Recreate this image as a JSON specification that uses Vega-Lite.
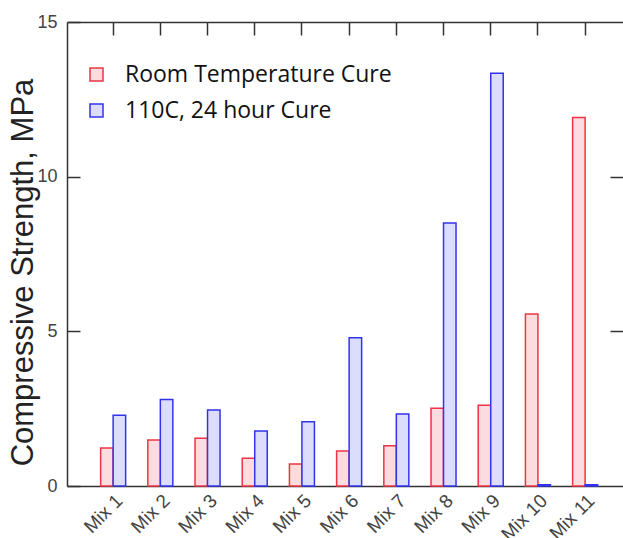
{
  "$schema": "https://vega.github.io/schema/vega-lite/v6.json",
  "width": 556,
  "height": 464,
  "autosize": {"type": "none"},
  "padding": {"left": 67, "top": 22, "right": 0, "bottom": 52},
  "background": "white",
  "config": {
    "view": {"stroke": null},
    "axis": {"domainColor": "#333", "domainWidth": 1.5, "tickColor": "#333", "tickWidth": 1.5, "grid": false, "labelFont": "Liberation Sans", "titleFont": "Liberation Sans"}
  },
  "data": {
    "values": [
      {"mix": "Mix 1", "cure": "Room Temperature Cure", "strength": 1.23},
      {"mix": "Mix 1", "cure": "110C, 24 hour Cure", "strength": 2.29},
      {"mix": "Mix 2", "cure": "Room Temperature Cure", "strength": 1.49},
      {"mix": "Mix 2", "cure": "110C, 24 hour Cure", "strength": 2.8},
      {"mix": "Mix 3", "cure": "Room Temperature Cure", "strength": 1.54},
      {"mix": "Mix 3", "cure": "110C, 24 hour Cure", "strength": 2.46},
      {"mix": "Mix 4", "cure": "Room Temperature Cure", "strength": 0.9},
      {"mix": "Mix 4", "cure": "110C, 24 hour Cure", "strength": 1.78},
      {"mix": "Mix 5", "cure": "Room Temperature Cure", "strength": 0.71},
      {"mix": "Mix 5", "cure": "110C, 24 hour Cure", "strength": 2.08},
      {"mix": "Mix 6", "cure": "Room Temperature Cure", "strength": 1.13},
      {"mix": "Mix 6", "cure": "110C, 24 hour Cure", "strength": 4.79},
      {"mix": "Mix 7", "cure": "Room Temperature Cure", "strength": 1.3},
      {"mix": "Mix 7", "cure": "110C, 24 hour Cure", "strength": 2.33},
      {"mix": "Mix 8", "cure": "Room Temperature Cure", "strength": 2.51},
      {"mix": "Mix 8", "cure": "110C, 24 hour Cure", "strength": 8.5},
      {"mix": "Mix 9", "cure": "Room Temperature Cure", "strength": 2.61},
      {"mix": "Mix 9", "cure": "110C, 24 hour Cure", "strength": 13.34},
      {"mix": "Mix 10", "cure": "Room Temperature Cure", "strength": 5.56},
      {"mix": "Mix 10", "cure": "110C, 24 hour Cure", "strength": 0.04},
      {"mix": "Mix 11", "cure": "Room Temperature Cure", "strength": 11.91},
      {"mix": "Mix 11", "cure": "110C, 24 hour Cure", "strength": 0.04}
    ]
  },
  "layer": [
    {
      "mark": {"type": "bar", "strokeWidth": 1.5},
      "encoding": {
        "x": {
          "field": "mix", "type": "nominal", "sort": null,
          "scale": {"paddingInner": 0.47, "paddingOuter": 0.625, "align": 0.57},
          "axis": {"orient": "bottom", "title": null, "labelAngle": -45, "ticks": false, "domain": true, "labelFontSize": 19, "labelColor": "#444", "labelPadding": 5}
        },
        "xOffset": {"field": "cure", "type": "nominal", "sort": ["Room Temperature Cure", "110C, 24 hour Cure"]},
        "y": {
          "field": "strength", "type": "quantitative",
          "scale": {"domain": [0, 15], "nice": false},
          "axis": {"orient": "left", "values": [0, 5, 10, 15], "title": "Compressive Strength, MPa", "tickSize": -13, "labelFontSize": 18, "labelColor": "#444", "labelPadding": 23, "titleFontSize": 31, "titleFontWeight": "normal", "titleColor": "#222", "titleX": -35, "titleY": 250, "titleBaseline": "alphabetic"}
        },
        "fill": {
          "field": "cure", "type": "nominal",
          "scale": {"domain": ["Room Temperature Cure", "110C, 24 hour Cure"], "range": ["#fcdcdf", "#dcdcfc"]},
          "legend": {"orient": "none", "legendX": 18, "legendY": 41, "title": null, "labelFont": "Open Sans", "labelFontSize": 23, "labelColor": "#111", "symbolType": "square", "symbolSize": 169, "symbolStrokeWidth": 1.5, "rowPadding": 12, "labelOffset": 17, "labelLimit": 400}
        },
        "stroke": {
          "field": "cure", "type": "nominal",
          "scale": {"domain": ["Room Temperature Cure", "110C, 24 hour Cure"], "range": ["#ee3344", "#3333ee"]},
          "legend": {"orient": "none", "legendX": 18, "legendY": 41, "title": null, "labelFont": "Open Sans", "labelFontSize": 23, "labelColor": "#111", "symbolType": "square", "symbolSize": 169, "symbolStrokeWidth": 1.5, "rowPadding": 12, "labelOffset": 17, "labelLimit": 400}
        }
      }
    },
    {
      "mark": {"type": "point", "opacity": 0},
      "encoding": {
        "x": {"field": "mix", "type": "nominal", "sort": null, "axis": {"orient": "top", "labels": false, "title": null, "tickSize": -13, "domain": true}},
        "y": {"field": "strength", "type": "quantitative", "axis": {"orient": "right", "labels": false, "title": null, "tickSize": -13, "domain": false, "values": [5, 10]}}
      }
    }
  ],
  "resolve": {"axis": {"x": "independent", "y": "independent"}}
}
